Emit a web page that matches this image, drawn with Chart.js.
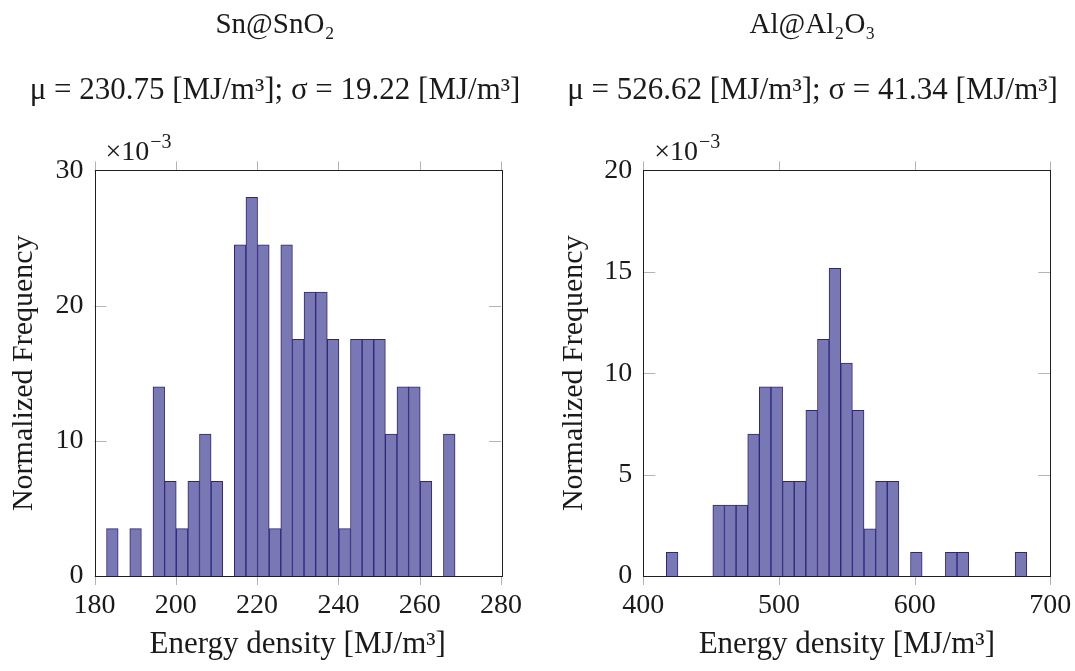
<!DOCTYPE html>
<html>
<head>
<meta charset="utf-8">
<script src="https://cdn.jsdelivr.net/npm/chart.js@4.4.1/dist/chart.umd.min.js"></script>
<style>
  body { margin: 0; background: #fff; }
  #wrap { position: relative; width: 1075px; height: 671px; }
  .box { position: absolute; top: 0; height: 671px; }
</style>
</head>
<body>
<div id="wrap">
  <div class="box" style="left:0;width:550px"><canvas id="chartSn"></canvas></div>
  <div class="box" style="left:550px;width:525px"><canvas id="chartAl"></canvas></div>
</div>
<script>
// Sn@SnO2 : 30 bins, normalized frequency (x 10^-3)
const snBinStart = 182.96;
const snBinWidth = 2.858;
const snFreq = [3.5, 0, 3.5, 0, 14.0, 7.0, 3.5, 7.0, 10.5, 7.0,
                0, 24.5, 28.0, 24.5, 3.5, 24.5, 17.5, 21.0, 21.0, 17.5,
                3.5, 17.5, 17.5, 17.5, 10.5, 14.0, 14.0, 7.0, 0, 10.5];
const snTicksX = [180, 200, 220, 240, 260, 280];
const snTicksY = [0, 10, 20, 30];

// Al@Al2O3 : 31 bins, normalized frequency (x 10^-3)
const alBinStart = 416.97;
const alBinWidth = 8.571;
const alFreq = [1.17, 0, 0, 0, 3.5, 3.5, 3.5, 7.0, 9.33, 9.33,
                4.67, 4.67, 8.17, 11.67, 15.17, 10.5, 8.17, 2.33, 4.67, 4.67,
                0, 1.17, 0, 0, 1.17, 1.17, 0, 0, 0, 0, 1.17];
const alTicksX = [400, 500, 600, 700];
const alTicksY = [0, 5, 10, 15, 20];

const serif = '"Liberation Serif", "DejaVu Serif", serif';
const ink = '#1a1a1a';
Chart.defaults.font.family = serif;
Chart.defaults.color = ink;

// frame, inside/outside tick marks and the x10^-3 factor
const frameTicks = {
  id: 'frameTicks',
  afterDatasetsDraw(chart) {
    const ctx = chart.ctx;
    const a = chart.chartArea;
    const x = chart.scales.x;
    const y = chart.scales.y;
    ctx.save();
    ctx.strokeStyle = '#b4b4b4';
    ctx.lineWidth = 1;
    ctx.beginPath();
    x.ticks.forEach(function (t) {
      const px = Math.round(x.getPixelForValue(t.value)) + 0.5;
      ctx.moveTo(px, a.top); ctx.lineTo(px, a.top - 9);
      ctx.moveTo(px, a.bottom); ctx.lineTo(px, a.bottom + 9);
    });
    y.ticks.forEach(function (t) {
      const py = Math.round(y.getPixelForValue(t.value)) + 0.5;
      ctx.moveTo(a.left, py); ctx.lineTo(a.left + 12, py);
      ctx.moveTo(a.right, py); ctx.lineTo(a.right - 12, py);
    });
    ctx.stroke();
    ctx.strokeStyle = '#1f1f1f';
    ctx.strokeRect(Math.round(a.left) + 0.5, Math.round(a.top) + 0.5,
                   Math.round(a.right - a.left), Math.round(a.bottom - a.top));
    // x10^-3
    ctx.fillStyle = ink;
    ctx.textBaseline = 'alphabetic';
    ctx.font = '28px ' + serif;
    const base = '×10';
    ctx.fillText(base, a.left + 11, a.top - 10);
    const w = ctx.measureText(base).width;
    ctx.font = '20px ' + serif;
    ctx.fillText('−3', a.left + 12 + w, a.top - 22);
    ctx.restore();
  }
};

function histograma(id, start, width, freq, ticksX, ticksY, yAxisWidth, rightGap, titulo, subtitulo) {
  const puntos = freq.map(function (v, i) {
    return { x: start + (i + 0.5) * width, y: v };
  });
  const ctx = document.getElementById(id).getContext('2d');
  return new Chart(ctx, {
    type: 'bar',
    data: {
      datasets: [{
        data: puntos,
        backgroundColor: 'rgb(120,120,181)',
        borderColor: 'rgb(50,36,122)',
        borderWidth: 1,
        borderSkipped: 'start',
        categoryPercentage: 1,
        barPercentage: 1,
      }],
    },
    options: {
      responsive: true,
      maintainAspectRatio: false,
      animation: false,
      layout: { padding: 0, autoPadding: false },
      plugins: {
        legend: { display: false },
        tooltip: { enabled: false },
        title: {
          display: true,
          text: titulo,
          color: ink,
          font: { size: 29, weight: 'normal' },
          padding: { top: 8, bottom: 29 },
        },
        subtitle: {
          display: true,
          text: subtitulo,
          color: ink,
          font: { size: 31 },
          padding: { top: 0, bottom: 61.4 },
        },
      },
      scales: {
        x: {
          type: 'linear',
          offset: false,
          min: ticksX[0],
          max: ticksX[ticksX.length - 1],
          afterBuildTicks: function (s) { s.ticks = ticksX.map(function (v) { return { value: v }; }); },
          afterFit: function (s) {
            s.height = 95;
            s.paddingLeft = 0;
            s.paddingRight = 0;
          },
          grid: { display: false, drawTicks: false, offset: false },
          border: { display: false },
          ticks: { font: { size: 28 }, color: ink, padding: 13, maxRotation: 0 },
          title: {
            display: true,
            text: 'Energy density [MJ/m³]',
            color: ink,
            font: { size: 31 },
            padding: { top: 0, bottom: 8 },
          },
        },
        y: {
          min: ticksY[0],
          max: ticksY[ticksY.length - 1],
          afterBuildTicks: function (s) { s.ticks = ticksY.map(function (v) { return { value: v }; }); },
          afterFit: function (s) {
            s.width = yAxisWidth;
            s.paddingTop = 0;
            s.paddingBottom = 0;
          },
          grid: { display: false, drawTicks: false },
          border: { display: false },
          ticks: { font: { size: 28 }, color: ink, padding: 11 },
          title: {
            display: true,
            text: 'Normalized Frequency',
            color: ink,
            font: { size: 30 },
            padding: { top: 6, bottom: 0 },
          },
        },
        gap: {
          type: 'linear',
          axis: 'y',
          position: 'right',
          grid: { display: false, drawTicks: false },
          border: { display: false },
          ticks: { display: false },
          afterFit: function (s) { s.width = rightGap; },
        },
      },
    },
    plugins: [frameTicks],
  });
}

histograma('chartSn', snBinStart, snBinWidth, snFreq, snTicksX, snTicksY, 94.5, 49,
  'Sn@SnO₂', 'μ = 230.75 [MJ/m³]; σ = 19.22 [MJ/m³]');
histograma('chartAl', alBinStart, alBinWidth, alFreq, alTicksX, alTicksY, 93.3, 24.7,
  'Al@Al₂O₃', 'μ = 526.62 [MJ/m³]; σ = 41.34 [MJ/m³]');
</script>
</body>
</html>
